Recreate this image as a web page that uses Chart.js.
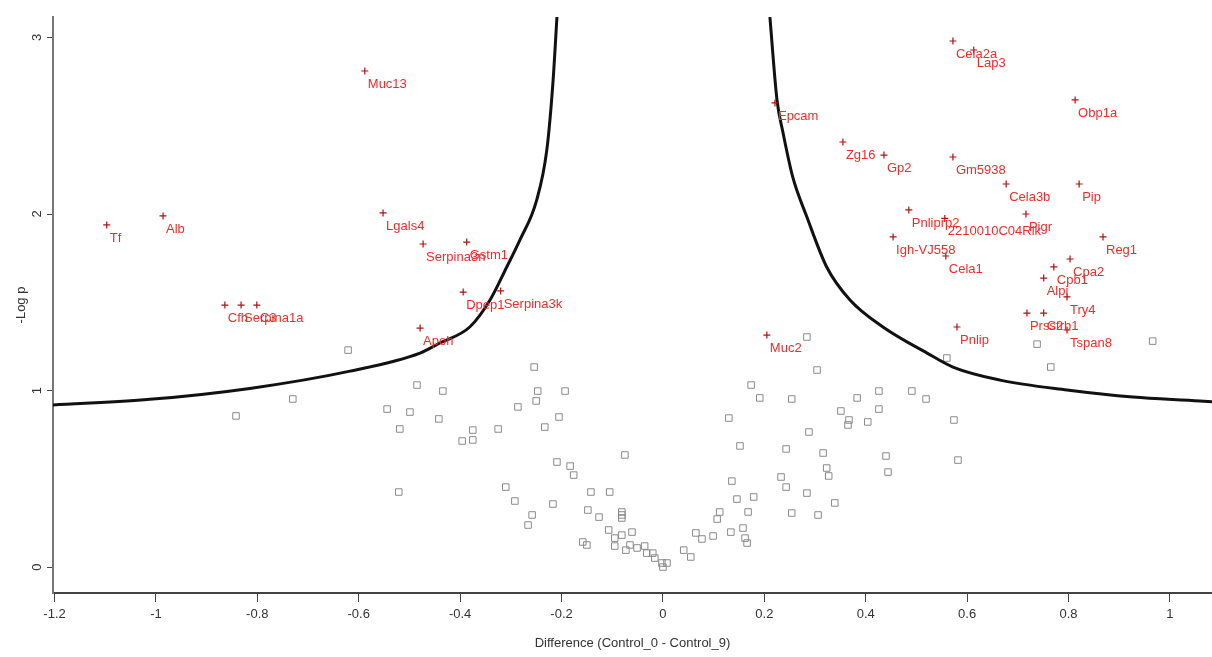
<!DOCTYPE html>
<html>
<head>
<meta charset="utf-8">
<script src="https://cdn.jsdelivr.net/npm/chart.js@4.4.1/dist/chart.umd.min.js"></script>
<style>
  html, body { margin: 0; padding: 0; background: #fff; }
  #wrap { width: 1212px; height: 657px; }
</style>
</head>
<body>
<div id="wrap"><canvas id="volcano" width="1212" height="657"></canvas></div>
<script>
// ── Data ──────────────────────────────────────────────────────────────────────

// significant proteins (red "+" with a name)
const geneNames = [
  "Tf", "Alb", "Cfh", "Serpina1a", "C3", "Muc13", "Lgals4", "Serpina3n", "Gstm1",
  "Dpep1", "Serpina3k", "Apoh", "Muc2", "Epcam", "Zg16", "Gp2", "Cela2a", "Lap3",
  "Gm5938", "Obp1a", "Cela3b", "Pip", "Pnliprp2", "2210010C04Rik", "Pigr",
  "Igh-VJ558", "Cela1", "Reg1", "Cpa2", "Cpb1", "Alpi", "Try4", "Prss2", "Ctrb1",
  "Tspan8", "Pnlip",
];
const geneDiff = [
  -1.097, -0.986, -0.864, -0.832, -0.801, -0.588, -0.552, -0.473, -0.387,
  -0.394, -0.320, -0.479, 0.205, 0.221, 0.355, 0.436, 0.572, 0.613,
  0.572, 0.813, 0.677, 0.821, 0.485, 0.556, 0.716,
  0.454, 0.558, 0.868, 0.803, 0.771, 0.751, 0.797, 0.718, 0.751,
  0.797, 0.580,
];
const geneLogP = [
  1.938, 1.989, 1.484, 1.484, 1.484, 2.810, 2.006, 1.830, 1.841,
  1.558, 1.564, 1.354, 1.314, 2.629, 2.408, 2.334, 2.980, 2.929,
  2.323, 2.646, 2.170, 2.170, 2.023, 1.975, 2.000,
  1.870, 1.762, 1.870, 1.745, 1.700, 1.637, 1.530, 1.439, 1.439,
  1.343, 1.360,
];

// non-significant proteins (grey open squares)
const bgDiff = [
  -0.621, -0.730, -0.842, -0.485, -0.434, -0.254, -0.247, -0.250, -0.286, -0.544,
  -0.499, -0.442, -0.519, -0.375, -0.325, -0.233, -0.396, -0.375, -0.521, -0.310,
  -0.292, -0.258, -0.266, -0.193, -0.205, -0.075, -0.209, -0.183, -0.176, -0.217,
  -0.142, -0.105, -0.148, -0.126, -0.081, -0.081, -0.081, -0.107, -0.081, -0.061,
  -0.095, -0.158, -0.150, -0.095, -0.065, -0.073, -0.051, -0.036, -0.032, -0.020,
  -0.016, -0.002, 0.008, 0.000, 0.041, 0.055, 0.065, 0.077, 0.099, 0.107,
  0.112, 0.134, 0.158, 0.162, 0.166, 0.136, 0.146, 0.179, 0.168, 0.152,
  0.130, 0.174, 0.191, 0.254, 0.304, 0.284, 0.243, 0.233, 0.243, 0.284,
  0.254, 0.306, 0.339, 0.288, 0.316, 0.323, 0.327, 0.351, 0.365, 0.367,
  0.383, 0.404, 0.426, 0.426, 0.440, 0.444, 0.491, 0.519, 0.560, 0.574,
  0.582, 0.738, 0.765, 0.966,
];
const bgLogP = [
  1.229, 0.952, 0.856, 1.031, 0.997, 1.133, 0.997, 0.941, 0.907, 0.895,
  0.878, 0.839, 0.782, 0.776, 0.782, 0.793, 0.714, 0.720, 0.425, 0.453,
  0.374, 0.295, 0.238, 0.997, 0.850, 0.635, 0.595, 0.572, 0.521, 0.357,
  0.425, 0.425, 0.323, 0.283, 0.312, 0.295, 0.278, 0.210, 0.181, 0.198,
  0.164, 0.142, 0.125, 0.119, 0.125, 0.096, 0.108, 0.119, 0.079, 0.079,
  0.051, 0.023, 0.023, 0.000, 0.096, 0.057, 0.193, 0.159, 0.176, 0.272,
  0.312, 0.198, 0.221, 0.164, 0.136, 0.487, 0.385, 0.397, 0.312, 0.686,
  0.844, 1.031, 0.958, 0.952, 1.116, 1.303, 0.669, 0.510, 0.453, 0.419,
  0.306, 0.295, 0.363, 0.765, 0.646, 0.561, 0.516, 0.884, 0.805, 0.833,
  0.958, 0.822, 0.997, 0.895, 0.629, 0.538, 0.997, 0.952, 1.184, 0.833,
  0.606, 1.263, 1.133, 1.280,
];

// significance threshold curve
const curveLeftX  = [-1.203, -1.012, -0.815, -0.617, -0.479, -0.440, -0.381, -0.341, -0.308, -0.282, -0.249, -0.229, -0.217, -0.209];
const curveLeftY  = [0.918, 0.950, 1.012, 1.110, 1.212, 1.269, 1.360, 1.513, 1.700, 1.853, 2.079, 2.363, 2.742, 3.116];
const curveRightX = [0.211, 0.225, 0.237, 0.256, 0.284, 0.323, 0.369, 0.434, 0.521, 0.572, 0.665, 0.797, 0.927, 1.059, 1.083];
const curveRightY = [3.116, 2.646, 2.459, 2.210, 1.983, 1.700, 1.513, 1.360, 1.212, 1.133, 1.059, 1.003, 0.963, 0.941, 0.936];

const xTicks = [-1.2, -1, -0.8, -0.6, -0.4, -0.2, 0, 0.2, 0.4, 0.6, 0.8, 1];
const yTicks = [0, 1, 2, 3];

const FONT = "'Liberation Sans', Arial, sans-serif";

// ── Plugins ───────────────────────────────────────────────────────────────────

// gene names next to the red crosses
const geneLabels = {
  id: "geneLabels",
  afterDatasetsDraw(chart) {
    const meta = chart.getDatasetMeta(0);
    const ctx = chart.ctx;
    ctx.save();
    ctx.font = "13px " + FONT;
    ctx.fillStyle = "#f22a2a";
    ctx.textBaseline = "middle";
    ctx.textAlign = "left";
    meta.data.forEach((pt, i) => {
      ctx.fillText(geneNames[i], pt.x + 3, pt.y + 13);
    });
    ctx.restore();
  },
};

// y tick labels are drawn rotated like in the original
const rotatedYTicks = {
  id: "rotatedYTicks",
  afterDraw(chart) {
    const y = chart.scales.y;
    const ctx = chart.ctx;
    ctx.save();
    ctx.font = "13px " + FONT;
    ctx.fillStyle = "#333";
    ctx.textAlign = "center";
    ctx.textBaseline = "middle";
    yTicks.forEach((v) => {
      ctx.save();
      ctx.translate(37, y.getPixelForValue(v));
      ctx.rotate(-Math.PI / 2);
      ctx.fillText(String(v), 0, 0);
      ctx.restore();
    });
    ctx.restore();
  },
};

// ── Chart ─────────────────────────────────────────────────────────────────────

const toPoints = (xs, ys) => xs.map((x, i) => ({ x, y: ys[i] }));

new Chart(document.getElementById("volcano"), {
  type: "scatter",
  data: {
    datasets: [
      {
        label: "significant",
        data: toPoints(geneDiff, geneLogP),
        pointStyle: "cross",
        pointRadius: 3.5,
        borderColor: "#b01010",
        borderWidth: 1.2,
        order: 1,
      },
      {
        label: "other",
        data: toPoints(bgDiff, bgLogP),
        pointStyle: "rect",
        pointRadius: 4.6,
        borderColor: "#8a8a8a",
        backgroundColor: "rgba(0,0,0,0)",
        borderWidth: 1,
        order: 3,
      },
      {
        label: "threshold left",
        data: toPoints(curveLeftX, curveLeftY),
        showLine: true,
        borderColor: "#111",
        borderWidth: 3,
        pointRadius: 0,
        cubicInterpolationMode: "monotone",
        order: 2,
      },
      {
        label: "threshold right",
        data: toPoints(curveRightX, curveRightY),
        showLine: true,
        borderColor: "#111",
        borderWidth: 3,
        pointRadius: 0,
        cubicInterpolationMode: "monotone",
        order: 2,
      },
    ],
  },
  options: {
    responsive: false,
    animation: false,
    layout: { autoPadding: false, padding: { top: 17, right: 0, bottom: 0, left: 0 } },
    plugins: {
      legend: { display: false },
      tooltip: { enabled: false },
    },
    scales: {
      x: {
        type: "linear",
        min: -1.203,
        max: 1.083,
        afterBuildTicks: (s) => { s.ticks = xTicks.map((v) => ({ value: v })); },
        afterFit: (s) => { s.height = 64; },
        grid: { display: true, drawOnChartArea: false, drawTicks: true, tickLength: 9, color: "#444" },
        border: { display: true, color: "#444", width: 2 },
        ticks: {
          font: { family: FONT, size: 13 },
          color: "#333",
          padding: 5,
          maxRotation: 0,
          autoSkip: false,
          callback: (v) => String(Math.round(v * 10) / 10),
        },
        title: {
          display: true,
          text: "Difference (Control_0 - Control_9)",
          font: { family: FONT, size: 13 },
          color: "#333",
          padding: { top: 0, bottom: 6 },
        },
      },
      y: {
        type: "linear",
        min: -0.147,
        max: 3.116,
        afterBuildTicks: (s) => { s.ticks = yTicks.map((v) => ({ value: v })); },
        afterFit: (s) => { s.width = 53; },
        grid: { display: true, drawOnChartArea: false, drawTicks: true, tickLength: 6, color: "#444" },
        border: { display: true, color: "#777", width: 2 },
        ticks: { display: false },
        title: {
          display: true,
          text: "-Log p",
          font: { family: FONT, size: 13 },
          color: "#333",
          padding: { top: 14, bottom: 0 },
        },
      },
    },
  },
  plugins: [geneLabels, rotatedYTicks],
});
</script>
</body>
</html>
